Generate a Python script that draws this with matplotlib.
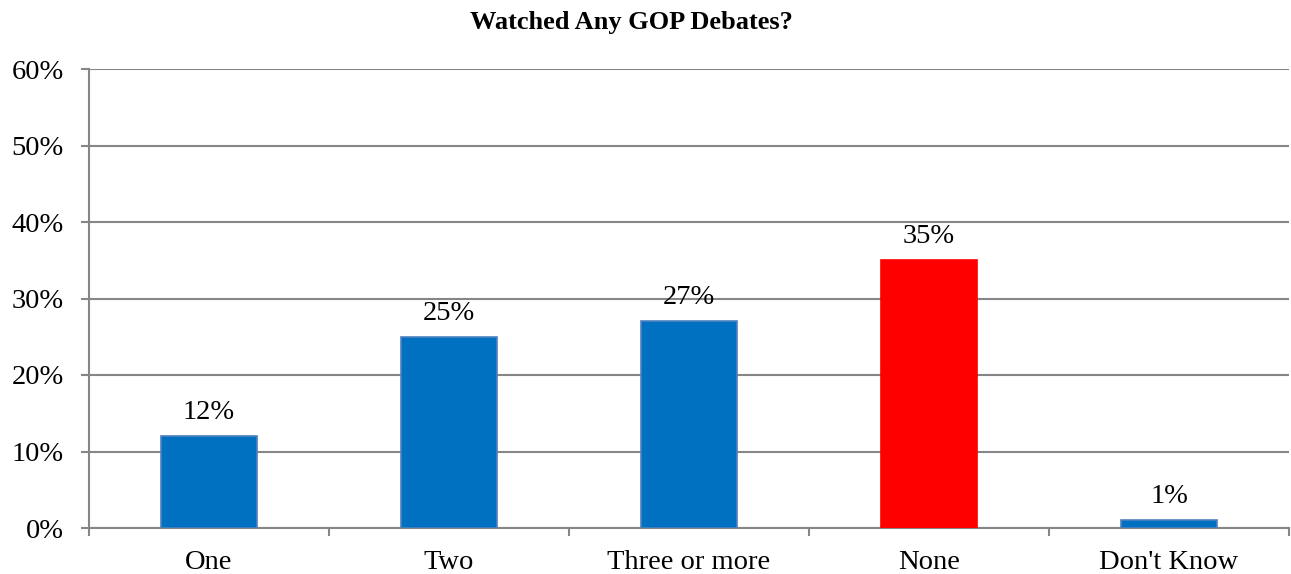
import matplotlib
matplotlib.use("Agg")
import matplotlib.pyplot as plt
from matplotlib.ticker import FixedLocator, NullFormatter, PercentFormatter

categories = ["One", "Two", "Three or more", "None", "Don't Know"]
values = [12, 25, 27, 35, 1]
bar_colors = ["#0070C0", "#0070C0", "#0070C0", "#FF0000", "#0070C0"]
edge_colors = ["#4F81BD", "#4F81BD", "#4F81BD", "#FF0000", "#4F81BD"]
yticks = [0, 10, 20, 30, 40, 50, 60]
title = "Watched Any GOP Debates?"

plt.rcParams['font.family'] = ['Liberation Serif', 'DejaVu Serif']

fig = plt.figure(figsize=(12.91, 5.74), dpi=100)
ax = fig.add_axes([89/1291, 1 - 528/574, 1200/1291, (528 - 69)/574])

x = list(range(len(categories)))
bars = ax.bar(x, values, width=0.40, color=bar_colors, edgecolor=edge_colors,
              linewidth=1.2, zorder=3)

fs = 20.5
for xi, v in zip(x, values):
    ax.annotate(f"{v}%", (xi, v), xytext=(0, 8), textcoords="offset points",
                ha="center", va="bottom", fontsize=fs, color="black")

ax.set_xlim(-0.5, len(categories) - 0.5)
ax.set_ylim(0, 60)
ax.set_yticks(yticks)
ax.yaxis.set_major_formatter(PercentFormatter(decimals=0))
ax.set_xticks(x)
ax.set_xticklabels(categories)
ax.xaxis.set_minor_locator(FixedLocator([i - 0.5 for i in range(len(categories) + 1)]))
ax.xaxis.set_minor_formatter(NullFormatter())

grid_c = "#868686"
ax.grid(axis="y", color=grid_c, linewidth=1.5, zorder=0)
ax.set_axisbelow(True)
for s in ["top", "right"]:
    ax.spines[s].set_visible(False)
for s in ["left", "bottom"]:
    ax.spines[s].set_color(grid_c)
    ax.spines[s].set_linewidth(1.5)

ax.tick_params(axis="y", which="major", length=6, width=1.5, color=grid_c,
               labelsize=fs, pad=12)
ax.tick_params(axis="x", which="major", length=0, labelsize=fs, pad=16)
ax.tick_params(axis="x", which="minor", length=6, width=1.5, color=grid_c)

fig.text(631/1291, 1 - 22/574, title, ha="center", va="center", fontsize=19,
         fontweight="bold")

fig.savefig("out.png", dpi=100)
